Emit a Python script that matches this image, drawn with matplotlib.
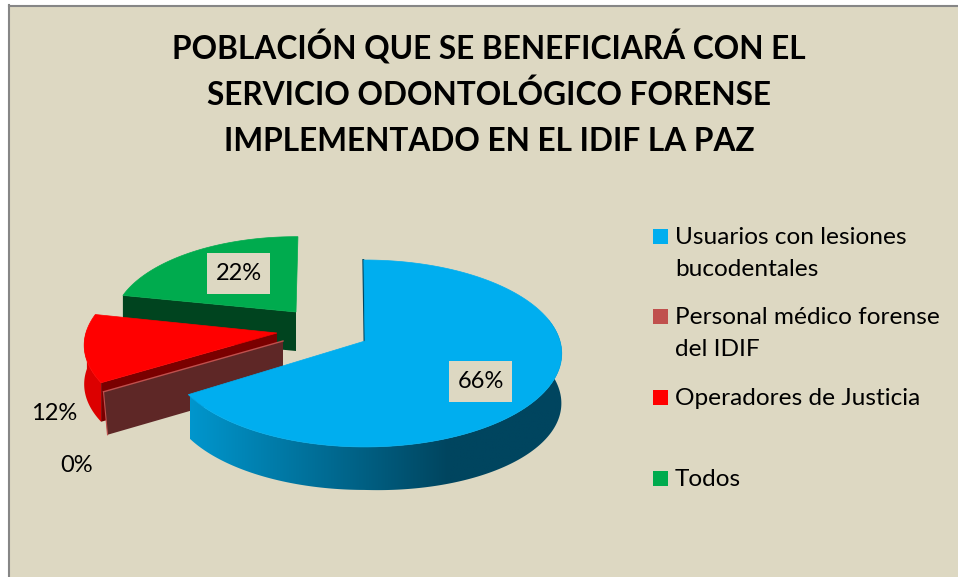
import numpy as np
import matplotlib
matplotlib.use("Agg")
import matplotlib.pyplot as plt
from matplotlib.colors import LinearSegmentedColormap
from matplotlib.patches import Polygon, Rectangle

# Data
categories = ["Usuarios con lesiones\nbucodentales", "Personal médico forense\ndel IDIF",
              "Operadores de Justicia", "Todos"]
values = [66, 0, 12, 22]
pct_labels = ["66%", "0%", "12%", "22%"]
title_lines = ["POBLACIÓN QUE SE BENEFICIARÁ CON EL",
               "SERVICIO ODONTOLÓGICO FORENSE",
               "IMPLEMENTADO EN EL IDIF LA PAZ"]

# Colours and geometry of each slice (pixel space of the picture)
top_colors = ["#00AEEF", "#C0504D", "#FF0000", "#00AB4E"]
cut_colors = ["#00455F", "#5E2726", "#7A0000", "#00441F"]
wall_colors = ["#00455F", "#5E2726", "#DC0000", "#00441F"]
apexes = [(365, 341), (283, 341), (277, 333), (296, 312)]
scales = [1.0, 1.0, 0.98, 0.93]
rotations = [0.6, 2.4, 2.4, 1.7]
depths = [43, 43, 39, 39]
START = -1.0
RX, RY, K = 195.0, 91.8, 0.1335

plt.rcParams["font.family"] = ["Lato", "DejaVu Sans"]
BG = "#DDD8C2"
EDGE = "#868686"


def proj(theta, apex, scale=1.0):
    # perspective view of a point on the pie rim, theta clockwise from the top
    t = np.radians(theta)
    u, v = np.sin(t), np.cos(t)
    d = 1 + K * v
    return apex[0] + scale * RX * u / d, apex[1] - scale * RY * v / d


def arc(a0, a1, apex, scale=1.0, n=120):
    th = np.linspace(a0, a1, n)
    x, y = proj(th, apex, scale)
    return np.column_stack([x, y])


fig = plt.figure(figsize=(9.58, 5.77), dpi=100, facecolor="white")
ax = fig.add_axes([0, 0, 1, 1])
ax.axis("off")

ax.add_patch(Rectangle((9, 5), 950, 575, fc=BG, ec="none", zorder=0))
ax.plot([9, 9], [5, 577], color=EDGE, lw=1.5, zorder=0.5)
ax.plot([9, 958], [5.5, 5.5], color=EDGE, lw=1.5, zorder=0.5)

# slice angles from the values
edges = START + np.cumsum([0] + values) * 3.6
a0 = edges[:-1] + np.array(rotations)
a1 = edges[1:] + np.array(rotations)

# Todos (back)
i = 3
ap, s, d = apexes[i], scales[i], depths[i]
p_end = proj(a0[i], ap, s)
ax.add_patch(Polygon([p_end, ap, (ap[0], ap[1] + d), (p_end[0], p_end[1] + d)],
                     fc=cut_colors[i], ec="none", zorder=1))
ax.add_patch(Polygon(np.vstack([[ap], arc(a0[i], a1[i], ap, s)]), fc=top_colors[i],
                     ec=top_colors[i], lw=0.5, zorder=2))

# Operadores de Justicia
i = 2
ap, s, d = apexes[i], scales[i], depths[i]
rim = arc(a0[i], 272, ap, s)
ax.add_patch(Polygon(np.vstack([rim, (rim + [0, d])[::-1]]), fc=wall_colors[i],
                     ec="none", zorder=3))
p_start = proj(a0[i], ap, s)
ax.add_patch(Polygon([p_start, ap, (ap[0], ap[1] + d), (p_start[0], p_start[1] + d)],
                     fc=cut_colors[i], ec="none", zorder=4))
ax.add_patch(Polygon(np.vstack([[ap], arc(a0[i], a1[i], ap, s)]), fc=top_colors[i],
                     ec=top_colors[i], lw=0.5, zorder=5))

# Personal medico, zero slice: only its standing face shows
i = 1
ap, s, d = apexes[i], scales[i], depths[i]
p = proj(a0[i], ap, s)
ax.add_patch(Polygon([p, ap, (ap[0], ap[1] + d), (p[0] + 4, p[1] + d)],
                     fc=cut_colors[i], ec="none", zorder=6))
ax.plot([p[0], ap[0]], [p[1], ap[1]], color=top_colors[i], lw=1.0, zorder=7)
ax.plot([p[0], p[0] + 4], [p[1], p[1] + d], color=top_colors[i], lw=0.8, zorder=7)

# Usuarios (front), wall is shaded along x and gets taller toward the right
i = 0
ap, d = apexes[i], depths[i]
th = np.linspace(70, a1[i], 180)
xt, yt = proj(th, ap)
xb = ap[0] + (xt - ap[0]) * 0.998
yb = yt + d * (1 + 0.16 * np.clip(np.sin(np.radians(th)), 0, 1))
wall = Polygon(np.vstack([np.column_stack([xt, yt]), np.column_stack([xb, yb])[::-1]]),
               fc="none", ec="none", zorder=8)
ax.add_patch(wall)
shade = LinearSegmentedColormap.from_list("wall", [(0, "#0096CD"), (0.69, "#00455F"), (1, "#00455F")])
im = ax.imshow(np.linspace(0, 1, 256)[None, :], extent=(190, 565, 500, 320), cmap=shade,
               aspect="auto", interpolation="bilinear", zorder=8)
im.set_clip_path(wall)
p0 = proj(a0[i], ap)
ax.plot([p0[0] - 0.5, ap[0] - 0.5], [p0[1], ap[1]], color=cut_colors[i], lw=1.4, zorder=8)
ax.add_patch(Polygon(np.vstack([[ap], arc(a0[i], a1[i], ap)]), fc=top_colors[i],
                     ec=top_colors[i], lw=0.5, zorder=9))

# data labels
for label, (cx, cy) in zip([pct_labels[0], pct_labels[3]], [(480.5, 381.5), (238.5, 273.5)]):
    ax.add_patch(Rectangle((cx - 31.5, cy - 20.5), 63, 41, fc=BG, ec="none", zorder=10))
    ax.text(cx, cy, label, fontsize=17, ha="center", va="center", color="black", zorder=11)
ax.text(54, 414, pct_labels[2], fontsize=17, ha="center", va="center", color="black", zorder=11)
ax.text(77, 465, pct_labels[1], fontsize=17, ha="center", va="center", color="black", zorder=11)

# title
for line, y in zip(title_lines, [60, 105, 151]):
    ax.text(489, y, line, fontsize=22.8, fontweight="bold", ha="center", va="baseline", color="black", zorder=11)

# legend
legend_y = [238, 318, 398.5, 479.5]
legend_colors = ["#00AEEF", "#C0504D", "#FF0000", "#00AB4E"]
for name, y, col in zip(categories, legend_y, legend_colors):
    ax.add_patch(Rectangle((653, y - 9), 15, 15, fc=col, ec="none", zorder=10))
    for k, part in enumerate(name.split("\n")):
        ax.text(675, y + k * 31, part, fontsize=17.6, ha="left", va="center", color="black", zorder=11)

ax.set_xlim(0, 958)
ax.set_ylim(577, 0)
fig.savefig("out.png", dpi=100, facecolor="white")
